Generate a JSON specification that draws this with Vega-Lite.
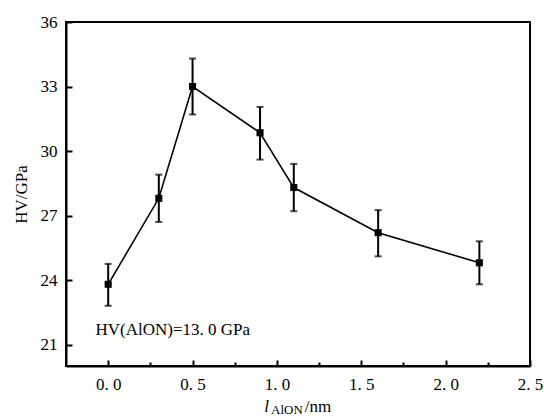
{
  "$schema": "https://vega.github.io/schema/vega-lite/v6.json",
  "width": 464,
  "height": 344,
  "autosize": "none",
  "padding": {"left": 66, "top": 22, "right": 14, "bottom": 52},
  "background": "white",
  "config": {
    "view": {"stroke": "black", "strokeWidth": 2},
    "font": "Times New Roman, Liberation Serif, DejaVu Serif, serif",
    "axis": {
      "domainColor": "black",
      "domainWidth": 2,
      "tickColor": "black",
      "tickWidth": 2,
      "grid": false,
      "labelFont": "Times New Roman, Liberation Serif, DejaVu Serif, serif",
      "labelFontSize": 17,
      "labelColor": "black",
      "titleFont": "Times New Roman, Liberation Serif, DejaVu Serif, serif",
      "titleFontSize": 17,
      "titleFontWeight": "normal",
      "titleColor": "black"
    }
  },
  "datasets": {
    "hv": [
      {"l": 0.0, "hv": 23.8, "lo": 22.8, "hi": 24.75},
      {"l": 0.3, "hv": 27.8, "lo": 26.7, "hi": 28.9},
      {"l": 0.5, "hv": 33.0, "lo": 31.7, "hi": 34.3},
      {"l": 0.9, "hv": 30.85, "lo": 29.6, "hi": 32.05},
      {"l": 1.1, "hv": 28.3, "lo": 27.2, "hi": 29.4},
      {"l": 1.6, "hv": 26.2, "lo": 25.1, "hi": 27.25},
      {"l": 2.2, "hv": 24.8, "lo": 23.8, "hi": 25.8}
    ]
  },
  "layer": [
    {
      "data": {"name": "hv"},
      "mark": {"type": "rule", "color": "black", "strokeWidth": 2},
      "encoding": {
        "x": {
          "field": "l",
          "type": "quantitative",
          "scale": {"domain": [-0.25, 2.5], "nice": false, "zero": false},
          "axis": {
            "title": null,
            "values": [0, 0.25, 0.5, 0.75, 1, 1.25, 1.5, 1.75, 2, 2.25, 2.5],
            "labelExpr": "(round(datum.value*100) % 50 == 0) ? replace(format(datum.value, '.1f'), '.', '. ') : ''",
            "tickSize": {"condition": {"test": "round(datum.value*100) % 50 == 0", "value": -6}, "value": -4},
            "labelPadding": 16,
            "labelFlush": false
          }
        },
        "y": {
          "field": "lo",
          "type": "quantitative",
          "scale": {"domain": [20, 36], "nice": false, "zero": false},
          "axis": {
            "title": "HV/GPa",
            "titlePadding": 10,
            "values": [21, 22.5, 24, 25.5, 27, 28.5, 30, 31.5, 33, 34.5, 36],
            "labelExpr": "(round(datum.value*10) % 30 == 0) ? format(datum.value, 'd') : ''",
            "tickSize": {"condition": {"test": "round(datum.value*10) % 30 == 0", "value": -6}, "value": -4},
            "labelPadding": 15,
            "labelFlush": false
          }
        },
        "y2": {"field": "hi"}
      }
    },
    {
      "data": {"name": "hv"},
      "mark": {"type": "tick", "color": "black", "orient": "horizontal", "size": 7, "thickness": 2},
      "encoding": {
        "x": {"field": "l", "type": "quantitative"},
        "y": {"field": "lo", "type": "quantitative"}
      }
    },
    {
      "data": {"name": "hv"},
      "mark": {"type": "tick", "color": "black", "orient": "horizontal", "size": 7, "thickness": 2},
      "encoding": {
        "x": {"field": "l", "type": "quantitative"},
        "y": {"field": "hi", "type": "quantitative"}
      }
    },
    {
      "data": {"name": "hv"},
      "mark": {"type": "line", "color": "black", "strokeWidth": 1.6},
      "encoding": {
        "x": {"field": "l", "type": "quantitative"},
        "y": {"field": "hv", "type": "quantitative"}
      }
    },
    {
      "data": {"name": "hv"},
      "mark": {"type": "square", "color": "black", "filled": true, "opacity": 1, "size": 50},
      "encoding": {
        "x": {"field": "l", "type": "quantitative"},
        "y": {"field": "hv", "type": "quantitative"}
      }
    },
    {
      "data": {"values": [{"note": "HV(AlON)=13. 0 GPa"}]},
      "mark": {"type": "text", "align": "left", "baseline": "alphabetic", "fontSize": 17, "font": "Times New Roman, Liberation Serif, DejaVu Serif, serif", "color": "black"},
      "encoding": {
        "x": {"datum": -0.075},
        "y": {"datum": 21.45},
        "text": {"field": "note"}
      }
    },
    {
      "data": {"values": [{"t": "l"}]},
      "mark": {"type": "text", "align": "left", "baseline": "alphabetic", "fontSize": 17, "fontStyle": "italic", "font": "Times New Roman, Liberation Serif, DejaVu Serif, serif", "color": "black"},
      "encoding": {
        "x": {"datum": 0.925},
        "y": {"datum": 17.85},
        "text": {"field": "t"}
      }
    },
    {
      "data": {"values": [{"t": "AlON"}]},
      "mark": {"type": "text", "align": "left", "baseline": "alphabetic", "fontSize": 13, "font": "Times New Roman, Liberation Serif, DejaVu Serif, serif", "color": "black"},
      "encoding": {
        "x": {"datum": 0.965},
        "y": {"datum": 17.75},
        "text": {"field": "t"}
      }
    },
    {
      "data": {"values": [{"t": "/nm"}]},
      "mark": {"type": "text", "align": "left", "baseline": "alphabetic", "fontSize": 17, "font": "Times New Roman, Liberation Serif, DejaVu Serif, serif", "color": "black"},
      "encoding": {
        "x": {"datum": 1.165},
        "y": {"datum": 17.85},
        "text": {"field": "t"}
      }
    }
  ]
}
